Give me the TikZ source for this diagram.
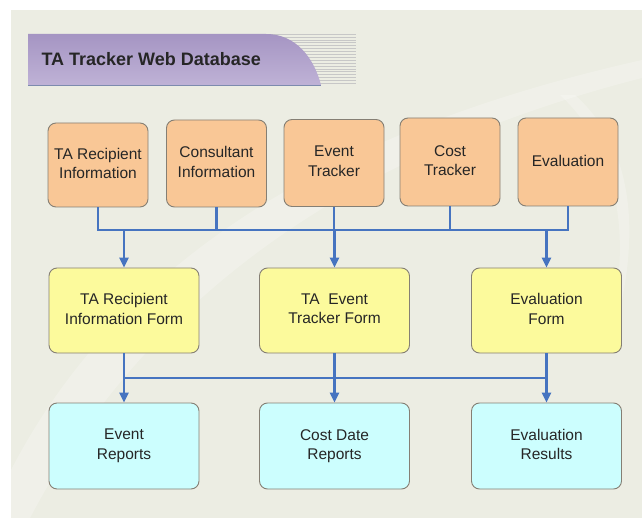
\documentclass[tikz,border=0pt]{standalone}
\usepackage{fontspec}
\setmainfont{Liberation Sans}
\usetikzlibrary{arrows.meta}

\definecolor{pagebg}{HTML}{ECEDE3}
\definecolor{srcfill}{HTML}{F9C796}
\definecolor{formfill}{HTML}{FCFA9C}
\definecolor{outfill}{HTML}{CCFEFE}
\definecolor{boxline}{HTML}{857F74}
\definecolor{busblue}{HTML}{4674C0}
\definecolor{bannertop}{HTML}{A595C3}
\definecolor{bannerbot}{HTML}{BFB2D6}
\definecolor{bannerline}{HTML}{7D8BAE}

\tikzset{
  card/.style={draw=boxline, line width=0.9pt, rounded corners=8pt,
    align=center, font=\fontsize{15.5}{19.5}\selectfont, text=black!85,
    inner sep=2pt,
    execute at begin node=\rule{0pt}{11.5pt},
    execute at end node=\rule[-3.3pt]{0pt}{3.3pt}},
  source/.style={card, fill=srcfill, minimum width=100pt, minimum height=87pt},
  form/.style={card, fill=formfill, minimum width=150pt, minimum height=85pt},
  result/.style={card, fill=outfill, minimum width=150pt, minimum height=86pt},
  bus/.style={draw=busblue, line width=2.8pt},
  feed/.style={bus, -{Triangle[length=10pt,width=9pt]}},
}

\begin{document}
\begin{tikzpicture}[x=1pt,y=-1pt]
  \useasboundingbox (0,0) rectangle (642,518);
  % page background with soft light swooshes
  \fill[pagebg] (11,10) rectangle (642,518);
  \fill[white, opacity=0.22]
    (11,470) .. controls (120,260) and (330,130) .. (642,60)
    -- (642,78) .. controls (360,150) and (150,290) .. (30,518) -- (11,518) -- cycle;
  \fill[white, opacity=0.22]
    (560,95) .. controls (610,140) and (630,220) .. (615,300)
    -- (622,300) .. controls (640,210) and (625,140) .. (575,95) -- cycle;

  % title banner with striped tail
  \foreach \k in {0,...,17}
    \draw[black!22, line width=0.5pt] (262,34+2.9*\k) -- (356,34+2.9*\k);
  \shade[top color=bannertop, bottom color=bannerbot]
    (28,34) -- (266,34) .. controls (296,34) and (314,58) .. (321,85) -- (28,85) -- cycle;
  \draw[bannerline, line width=0.8pt] (28,85) -- (321,85);
  \node[anchor=west, font=\fontsize{18}{20}\bfseries\selectfont, text=black!85]
    (title) at (38,59) {TA Tracker Web Database};

  % data sources
  \node[source, minimum height=84pt] (t1) at (98,165) {TA Recipient\\Information};
  \node[source] (t2) at (216.5,163.5) {Consultant\\Information};
  \node[source] (t3) at (334,163) {Event\\Tracker};
  \node[source, minimum height=88pt] (t4) at (450,162) {Cost\\Tracker};
  \node[source, minimum height=88pt] (t5) at (568,162) {Evaluation};

  % forms
  \node[form] (m1) at (124,310.5) {TA Recipient\\Information Form};
  \node[form] (m2) at (334.5,310.5) {TA\ \ Event\\Tracker Form};
  \node[form] (m3) at (546.5,310.5) {Evaluation\\Form};

  % reports
  \node[result] (b1) at (124,446) {Event\\Reports};
  \node[result] (b2) at (334.5,446) {Cost Date\\Reports};
  \node[result] (b3) at (546.5,446) {Evaluation\\Results};

  % upper bus: sources to forms
  \coordinate (busA) at (0,230);
  \draw[bus] (t1.south) -- (t1.south |- busA) -- (t5.south |- busA) -- (t5.south);
  \draw[bus] (t2.south) -- (t2.south |- busA);
  \draw[bus] (t3.south) -- (t3.south |- busA);
  \draw[bus] (t4.south) -- (t4.south |- busA);
  \draw[feed] (m1.north |- busA) -- (m1.north);
  \draw[feed] (m2.north |- busA) -- (m2.north);
  \draw[feed] (m3.north |- busA) -- (m3.north);

  % lower bus: forms to reports
  \coordinate (busB) at (0,378);
  \draw[bus] (m1.south |- busB) -- (m3.south |- busB);
  \draw[feed] (m1.south) -- (b1.north);
  \draw[feed] (m2.south) -- (b2.north);
  \draw[feed] (m3.south) -- (b3.north);
\end{tikzpicture}
\end{document}
